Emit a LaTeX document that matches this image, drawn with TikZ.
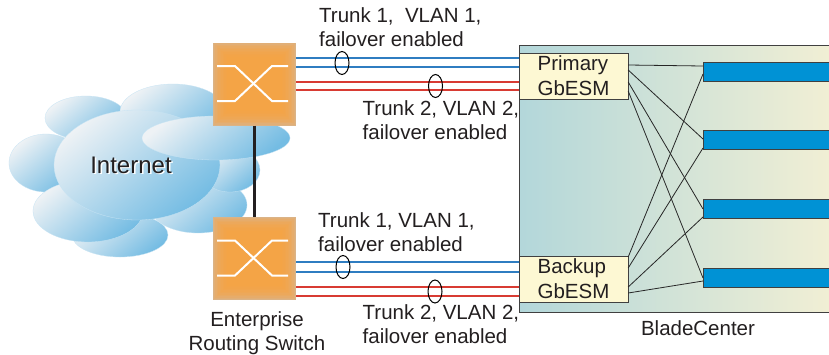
\documentclass[tikz,border=0pt]{standalone}
\usepackage{fontspec}
\setmainfont{Liberation Sans}
\usetikzlibrary{shapes.geometric}

\definecolor{textgray}{HTML}{231F20}
\definecolor{trunkblue}{HTML}{2F7DC1}
\definecolor{trunkred}{HTML}{D83B33}
\definecolor{switchorange}{HTML}{F8A443}
\definecolor{switchtan}{HTML}{DBB386}
\definecolor{cloudblue}{HTML}{74BCE3}
\definecolor{cloudwhite}{HTML}{EEF2F5}
\definecolor{chassisteal}{HTML}{B3D7DA}
\definecolor{chassiscream}{HTML}{F4F0D4}
\definecolor{esmyellow}{HTML}{FDF8D3}
\definecolor{bladeblue}{HTML}{0092D5}

\begin{document}
\begin{tikzpicture}[x=1pt,y=-1pt,
switch node/.style={rectangle,minimum width=83pt,minimum height=83pt,inner sep=0pt,fill=switchtan},
esm node/.style={rectangle,draw=black!75,fill=esmyellow,minimum width=109pt,minimum height=46pt,inner sep=0pt,align=left,text=textgray,font=\fontsize{20.5}{25}\selectfont},
blade node/.style={rectangle,draw=black!75,fill=bladeblue,minimum width=150pt,minimum height=19pt,inner sep=0pt,anchor=west},
label node/.style={align=left,anchor=north west,inner sep=0pt,text=textgray,font=\fontsize{20.5}{24.5}\selectfont},
ring node/.style={ellipse,draw=black,line width=1pt,minimum width=14pt,minimum height=23pt,inner sep=0pt},
cloud part/.style={shading=axis,top color=cloudwhite,bottom color=cloudblue,shading angle=40,draw=cloudblue!40,line width=0.3pt},
vlan1/.style={draw=trunkblue,line width=1.2pt},
vlan2/.style={draw=trunkred,line width=1.2pt},
mesh/.style={draw=black!85,line width=0.8pt}]
\clip (0,0) rectangle (829,354);
\fill[white] (0,0) rectangle (829,354);

% internet cloud
\path[cloud part] (120,235) ellipse [x radius=48,y radius=22];
\path[cloud part] (198,205) ellipse [x radius=49,y radius=28];
\path[cloud part] (230,170) ellipse [x radius=30,y radius=22];
\path[cloud part] (86,118) ellipse [x radius=41,y radius=22];
\path[cloud part] (46,163) ellipse [x radius=37,y radius=29];
\path[cloud part] (173,112) ellipse [x radius=53,y radius=28];
\path[cloud part] (88,211) ellipse [x radius=55,y radius=31];
\path[cloud part] (137,165) ellipse [x radius=83,y radius=55];
\path[cloud part] (216,138) ellipse [x radius=74,y radius=22];
\node[text=white,font=\fontsize{24}{24}\selectfont] at (132.5,166.5) {Internet};
\node[text=textgray,font=\fontsize{24}{24}\selectfont] (net) at (131,165) {Internet};

% bladecenter chassis
\node[rectangle,draw=black!75,left color=chassisteal,right color=chassiscream,minimum width=326pt,minimum height=267pt,inner sep=0pt] (bc) at (682,178.5) {};
\node[text=textgray,font=\fontsize{20.5}{24}\selectfont] (bclabel) at (698,328) {BladeCenter};

\node[esm node] (prim) at (573.5,76) {Primary\\GbESM};
\node[esm node] (back) at (573.5,279) {Backup\\GbESM};

\node[blade node] (b1) at (703,71.5) {};
\node[blade node] (b2) at (703,140) {};
\node[blade node] (b3) at (703,209) {};
\node[blade node] (b4) at (703,278) {};

% switches, soft orange centre over tan
\node[switch node] (sw1) at (254.5,84) {};
\node[switch node] (sw2) at (254.5,258.5) {};
\foreach \s in {sw1,sw2}{
  \foreach \i in {1,2.5,...,14.5}
    \fill[switchorange,opacity=0.22] ([shift={(\i,\i)}]\s.north west) rectangle ([shift={(-\i,-\i)}]\s.south east);
  \draw[white,line width=2pt,shift={(\s.center)}]
    (-37.5,-18) -- (-19.5,-18) -- (17.5,17) -- (33.5,17)
    (-37.5,17) -- (-19.5,17) -- (17.5,-18) -- (33.5,-18);
}
\draw[textgray,line width=2.5pt] (sw1) -- (sw2);

% trunks
\foreach \y in {58,67} \draw[vlan1] (sw1.east |- 0,\y) -- (prim.west |- 0,\y);
\foreach \y in {82,90} \draw[vlan2] (sw1.east |- 0,\y) -- (prim.west |- 0,\y);
\foreach \y in {262,272} \draw[vlan1] (sw2.east |- 0,\y) -- (back.west |- 0,\y);
\foreach \y in {287,296} \draw[vlan2] (sw2.east |- 0,\y) -- (back.west |- 0,\y);

\node[ring node] (r1) at (342,63) {};
\node[ring node] (r2) at (435.5,86) {};
\node[ring node] (r3) at (343,267) {};
\node[ring node] (r4) at (435,291.5) {};

\node[label node] (t1) at (319,7) {Trunk 1,\ \ VLAN 1,\\failover enabled};
\node[label node] (t2) at (362.5,100) {Trunk 2, VLAN 2,\\failover enabled};
\node[label node] (t3) at (318,212) {Trunk 1, VLAN 1,\\failover enabled};
\node[label node] (t4) at (362.5,304) {Trunk 2, VLAN 2,\\failover enabled};
\node[label node,align=center,anchor=north] (ers) at (257,311) {Enterprise\\Routing Switch};

% gbesm to blade links
\path[mesh]
(prim.east |- 0,65) edge (b1.west |- 0,66)
(prim.east |- 0,70) edge (b2.west |- 0,139)
(prim.east |- 0,82) edge (b3.west |- 0,209)
(prim.east |- 0,91) edge (b4.west |- 0,278)
(back.east |- 0,257) edge (b1.west |- 0,74)
(back.east |- 0,268) edge (b2.west |- 0,148)
(back.east |- 0,287) edge (b3.west |- 0,217)
(back.east |- 0,293) edge (b4.west |- 0,281);
\end{tikzpicture}
\end{document}
